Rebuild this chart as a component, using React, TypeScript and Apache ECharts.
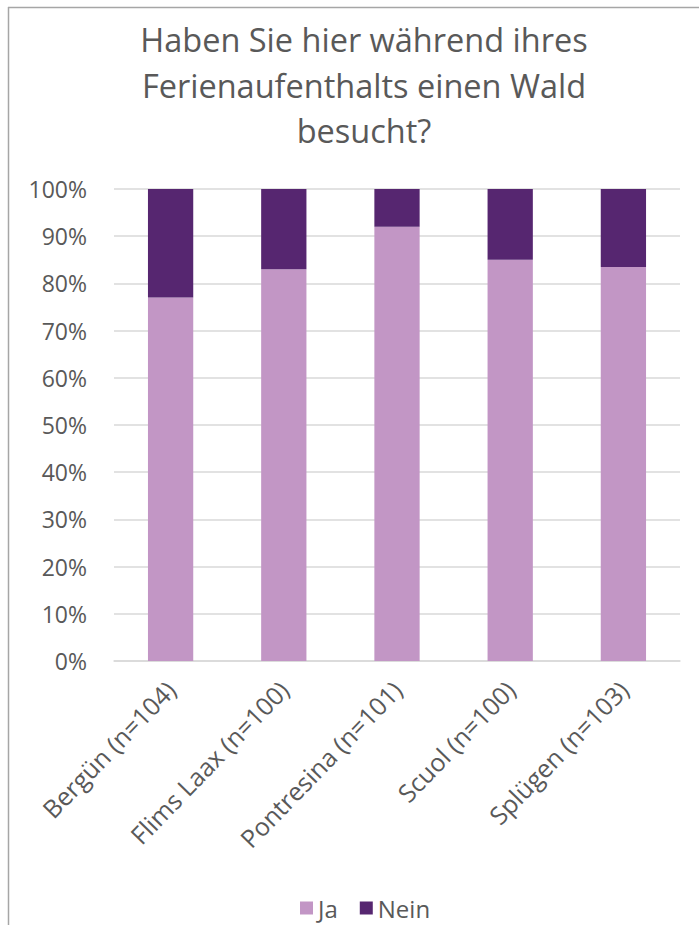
import React, { useEffect, useRef } from "react";
import * as echarts from "echarts";

const categories = [
  "Bergün (n=104)",
  "Flims Laax (n=100)",
  "Pontresina (n=101)",
  "Scuol (n=100)",
  "Splügen (n=103)",
];
const jaValues = [77, 83, 92, 85, 83.5];
const neinValues = [23, 17, 8, 15, 16.5];
const seriesNames = ["Ja", "Nein"];
const titleText = "Haben Sie hier während ihres\nFerienaufenthalts einen Wald\nbesucht?";

const FONT = "'Open Sans', 'Noto Sans', sans-serif";
const GRAY = "#595959";

export default function App() {
  const ref = useRef<HTMLDivElement>(null);
  useEffect(() => {
    if (!ref.current) return;
    const chart = echarts.init(ref.current, null, { renderer: "svg" });
    chart.setOption({
      animation: false,
      backgroundColor: "#ffffff",
      textStyle: { fontFamily: FONT },
      title: {
        text: titleText,
        left: 359,
        top: 12,
        textAlign: "center",
        textStyle: {
          fontFamily: FONT,
          fontSize: 32.5,
          fontWeight: "normal",
          color: GRAY,
          lineHeight: 45.5,
        },
      },
      legend: {
        data: seriesNames,
        left: 295,
        top: 891,
        itemWidth: 13,
        itemHeight: 13,
        itemGap: 22,
        icon: "rect",
        textStyle: { fontFamily: FONT, fontSize: 24, color: GRAY },
      },
      grid: { left: 114, right: 19, top: 189, bottom: 264, containLabel: false },
      xAxis: {
        type: "category",
        data: categories,
        axisLine: { show: true, lineStyle: { color: "#d9d9d9", width: 1.5 } },
        axisTick: { show: false },
        axisLabel: {
          rotate: 46,
          margin: 24,
          fontFamily: FONT,
          fontSize: 25,
          color: GRAY,
          interval: 0,
        },
      },
      yAxis: {
        type: "value",
        min: 0,
        max: 100,
        interval: 10,
        axisLine: { show: false },
        axisTick: { show: false },
        axisLabel: {
          formatter: "{value}%",
          margin: 27,
          fontFamily: FONT,
          fontSize: 23,
          color: GRAY,
        },
        splitLine: { lineStyle: { color: "#d9d9d9", width: 1.5 } },
      },
      series: [
        {
          name: seriesNames[0],
          type: "bar",
          stack: "total",
          data: jaValues,
          barWidth: "40%",
          itemStyle: { color: "#c296c5" },
        },
        {
          name: seriesNames[1],
          type: "bar",
          stack: "total",
          data: neinValues,
          barWidth: "40%",
          itemStyle: { color: "#562670" },
        },
      ],
      graphic: [
        {
          type: "line",
          shape: { x1: 8, y1: 7.5, x2: 699, y2: 7.5 },
          style: { stroke: "#a6a6a6", lineWidth: 1.5 },
          silent: true,
        },
        {
          type: "line",
          shape: { x1: 8.5, y1: 7, x2: 8.5, y2: 925 },
          style: { stroke: "#a6a6a6", lineWidth: 1.5 },
          silent: true,
        },
      ],
    });
    return () => chart.dispose();
  }, []);
  return (
    <div
      ref={ref}
      style={{ position: "absolute", left: 0, top: 0, width: 699, height: 925 }}
    />
  );
}
